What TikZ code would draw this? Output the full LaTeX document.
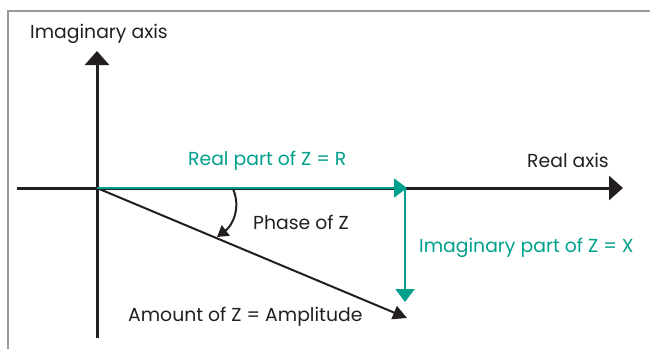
\documentclass[tikz,border=0pt]{standalone}
\usepackage{fontspec}
\setmainfont{Poppins}
\usetikzlibrary{arrows.meta}
\definecolor{teal1}{HTML}{00A08C}
\definecolor{ink}{HTML}{231F20}
\definecolor{framegray}{HTML}{9A9A9A}
\tikzset{
  axisline/.style={draw=ink,line width=3pt,-{Triangle[length=14pt,width=24pt]}},
  tealline/.style={draw=teal1,line width=2pt,-{Triangle[length=13pt,width=19pt]}},
  diagline/.style={draw=ink,line width=2pt,-{Triangle[length=14pt,width=14pt]}},
  phasearc/.style={draw=ink,line width=2pt,-{Triangle[length=11pt,width=13pt]}},
  lbl/.style={inner sep=0pt,font=\fontsize{18.8}{22}\selectfont,text=ink},
  tlbl/.style={lbl,text=teal1},
}
\begin{document}
\begin{tikzpicture}[x=1pt,y=-1pt]
\useasboundingbox (0,0) rectangle (650,349);
\draw[framegray,line width=1.2pt] (8,349) -- (8,11) -- (650,11);
\coordinate (O) at (97,188);
\coordinate (Xl) at (17,188);
\coordinate (Xr) at (623,188);
\coordinate (Yb) at (97,338);
\coordinate (Yt) at (97,51);
\coordinate (R) at (407,188);
\coordinate (Rv) at (405,188);
\coordinate (X) at (405,302);
\coordinate (Z) at (407,318);
\coordinate (Ps) at (233,189);
\coordinate (Pe) at (217,237);
\draw[axisline] (Xl) -- (Xr);
\draw[axisline] (Yb) -- (Yt);
\draw[diagline] (O) -- (Z);
\draw[tealline] (O) -- (R);
\draw[tealline] (Rv) -- (X);
\draw[phasearc] (Ps) .. controls (241,207) and (233,225) .. (Pe);
\node[lbl,anchor=west] (imag) at (30,33.5) {Imaginary axis};
\node[lbl,anchor=west] (real) at (527,160.5) {Real axis};
\node[tlbl,anchor=west] (rp) at (188,160.5) {Real part of Z = R};
\node[lbl,anchor=west] (ph) at (253,222.5) {Phase of Z};
\node[tlbl,anchor=west] (ip) at (419,247.5) {Imaginary part of Z = X};
\node[lbl,anchor=west] (am) at (128,316.5) {Amount of Z = Amplitude};
\end{tikzpicture}
\end{document}
